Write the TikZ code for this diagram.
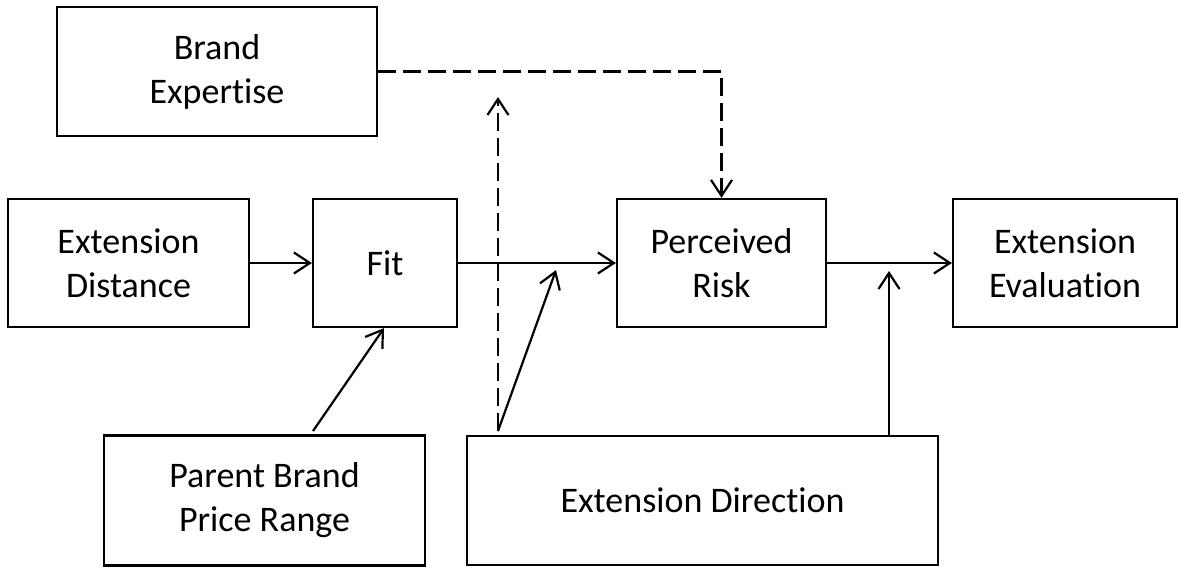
\documentclass[tikz,border=0pt]{standalone}
\usepackage{fontspec}
\setmainfont[Ligatures=NoCommon]{Carlito}
\usetikzlibrary{arrows.meta,calc}
\begin{document}
\begin{tikzpicture}[x=1pt,y=-1pt,
  box/.style={draw,line width=2.2pt,inner sep=0pt,align=center,
    font=\fontsize{36}{44}\selectfont},
  link/.style={line width=2.2pt,-{Straight Barb[length=16pt,width=21pt,line width=2.2pt]}},
  dlink/.style={link,dash pattern=on 18pt off 7pt}]
\useasboundingbox (0,0) rectangle (1181,567);

\node[box,minimum width=320pt,minimum height=129pt] (be) at (217,71.5) {Brand\\Expert\kern0pt ise};
\node[box,minimum width=241pt,minimum height=128pt] (ed) at (128.5,263) {Extension\\Distance};
\node[box,minimum width=144pt,minimum height=128pt] (fit) at (385,263) {Fit};
\node[box,minimum width=209pt,minimum height=128pt] (pr) at (721.5,263) {Perceived\\Risk};
\node[box,minimum width=224pt,minimum height=128pt] (ee) at (1065,263) {Extension\\Evaluat\kern0pt ion};
\node[box,minimum width=321pt,minimum height=130pt] (pb) at (264.5,500.5) {Parent Brand\\Price Range};
\node[box,minimum width=471pt,minimum height=129pt] (dir) at (702.5,500.5) {Extension Direct\kern0pt ion};

% points on the paths the moderators point at
\coordinate (dtop) at (498,97);
\coordinate (dbot) at (498,431);
\coordinate (mfit) at (556,270);
\coordinate (mpr) at (889,271);
\coordinate (pbtop) at (313,431);

\draw[link] (ed) -- (fit);
\draw[link] (fit) -- (pr);
\draw[link] (pr) -- (ee);
\draw[dlink] (be.east) -| (pr.north);
\draw[dlink] (dbot) -- (dtop);
\draw[link] (dbot) -- (mfit);
\draw[link] (pbtop) -- (fit.south -| 384,0);
\draw[link] (dir.north -| mpr) -- (mpr);
\end{tikzpicture}
\end{document}
